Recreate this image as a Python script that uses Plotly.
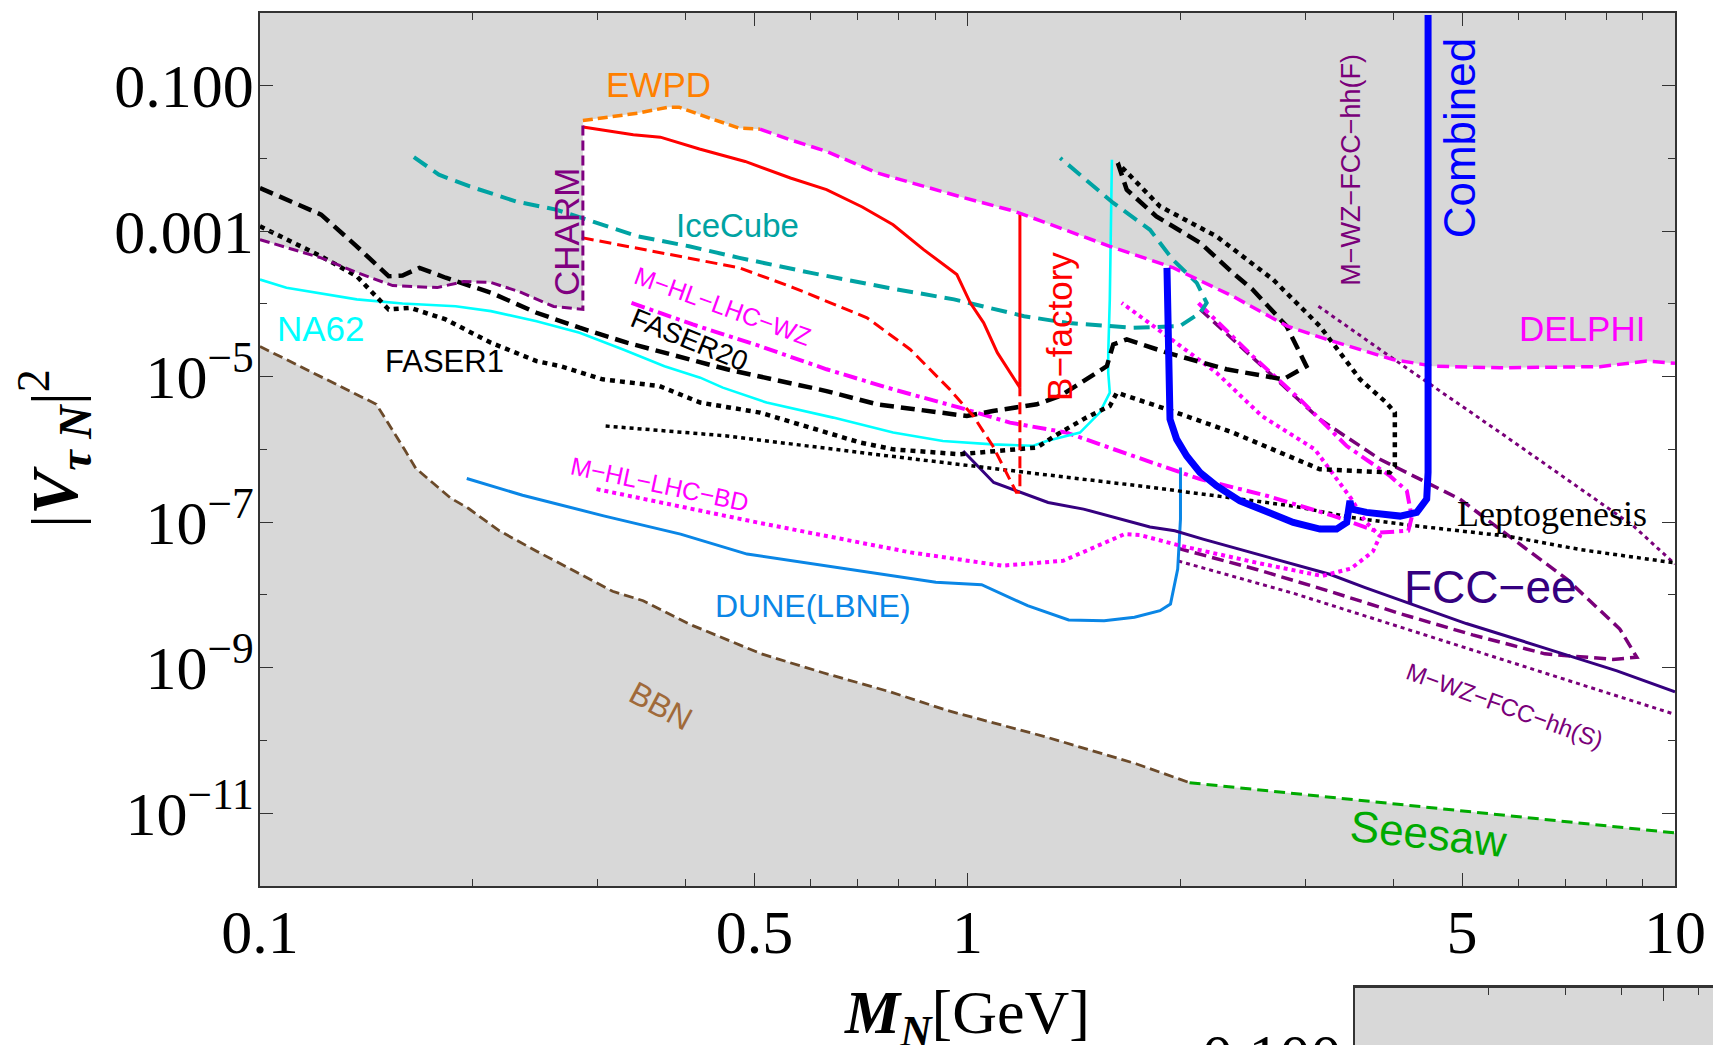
import math
import plotly.graph_objects as go

W, H = 1713, 1045

# ---------------------------------------------------------------
# Heavy neutral lepton: mass M_N [GeV] vs. mixing |V_tauN|^2
# ---------------------------------------------------------------

# BBN lower bound
bbn_m = [0.1, 0.122, 0.146, 0.160, 0.166, 0.186, 0.197, 0.218, 0.246, 0.283,
         0.315, 0.348, 0.404, 0.511, 0.625, 0.776, 0.938, 1.29, 1.73, 2.06]
bbn_v = [2.59e-5, 1.0e-5, 4.17e-6, 1.0e-6, 5.50e-7, 2.14e-7, 1.55e-7, 7.59e-8, 3.98e-8, 1.95e-8,
         1.12e-8, 8.32e-9, 3.98e-9, 1.55e-9, 8.51e-10, 4.68e-10, 2.57e-10, 1.12e-10, 4.79e-11, 2.63e-11]

# seesaw line
seesaw_m = [2.06, 10.0]
seesaw_v = [2.63e-11, 5.37e-12]

# CHARM bound
charm_m = [0.1, 0.122, 0.137, 0.154, 0.178, 0.194, 0.212, 0.232, 0.260, 0.286, 0.286]
charm_v = [7.62e-4, 4.28e-4, 2.69e-4, 1.78e-4, 1.67e-4, 2.02e-4, 1.96e-4, 1.48e-4, 9.18e-5, 8.36e-5, 3.20e-2]

# electroweak precision data
ewpd_m = [0.286, 0.342, 0.378, 0.391, 0.432, 0.476, 0.509]
ewpd_v = [3.30e-2, 4.17e-2, 5.04e-2, 5.04e-2, 3.56e-2, 2.59e-2, 2.51e-2]

# DELPHI bound
delphi_m = [0.509, 0.562, 0.632, 0.746, 0.973, 1.167, 1.589, 1.950, 2.371, 2.831,
            3.221, 3.990, 4.550, 5.662, 7.834, 9.120, 10.0]
delphi_v = [2.51e-2, 1.79e-2, 1.24e-2, 6.27e-3, 2.99e-3, 1.86e-3, 6.17e-4, 3.15e-4, 1.27e-4, 4.93e-5,
            3.24e-5, 1.72e-5, 1.39e-5, 1.32e-5, 1.37e-5, 1.63e-5, 1.52e-5]

# FASER (1) reach
faser1_m = [0.1, 0.122, 0.137, 0.152, 0.163, 0.183, 0.212, 0.246, 0.266, 0.305,
            0.367, 0.419, 0.509, 0.705, 0.785, 0.975, 1.253, 1.352, 1.472, 1.589,
            1.626, 1.914, 2.371, 3.148, 3.954, 4.018, 4.018, 3.908, 3.589, 3.327,
            3.148, 2.704, 2.249, 1.871, 1.631]
faser1_v = [1.16e-3, 4.50e-4, 2.39e-4, 8.36e-5, 8.81e-5, 6.10e-5, 2.92e-5, 1.63e-5, 1.39e-5, 9.16e-6,
            7.41e-6, 4.39e-6, 3.20e-6, 1.24e-6, 1.00e-6, 8.57e-7, 1.06e-6, 1.70e-6, 2.73e-6, 3.94e-6,
            6.01e-6, 3.55e-6, 1.70e-6, 5.33e-7, 4.81e-7, 5.92e-7, 3.20e-6, 4.39e-6, 9.14e-6, 2.36e-5,
            4.93e-5, 2.15e-4, 8.45e-4, 2.18e-3, 8.59e-3]

# FASER 2 (20) reach
faser20_m = [0.1, 0.122, 0.137, 0.152, 0.159, 0.168, 0.183, 0.212, 0.246, 0.283,
             0.330, 0.457, 0.632, 0.745, 0.998, 1.086, 1.253, 1.352, 1.574, 1.607,
             1.679, 1.914, 2.323, 2.793, 3.013, 2.825, 2.529, 2.371, 2.133, 1.849,
             1.679, 1.631]
faser20_v = [3.90e-3, 1.68e-3, 6.17e-4, 2.39e-4, 2.44e-4, 3.12e-4, 2.28e-4, 1.42e-4, 7.53e-5, 4.69e-5,
             2.92e-5, 1.26e-5, 6.32e-6, 4.16e-6, 2.87e-6, 3.37e-6, 4.16e-6, 5.41e-6, 1.39e-5, 2.77e-5,
             3.24e-5, 2.13e-5, 1.26e-5, 9.16e-6, 1.39e-5, 4.93e-5, 1.57e-4, 2.66e-4, 6.87e-4, 1.59e-3,
             3.70e-3, 8.59e-3]

# NA62 reach
na62_m = [0.1, 0.109, 0.137, 0.159, 0.189, 0.212, 0.246, 0.283, 0.326, 0.373,
          0.419, 0.451, 0.520, 0.646, 0.785, 0.923, 1.086, 1.239, 1.294, 1.442,
          1.538, 1.589, 1.581, 1.581, 1.589, 1.600]
na62_v = [2.15e-4, 1.66e-4, 1.15e-4, 1.01e-4, 9.27e-5, 7.93e-5, 5.77e-5, 4.00e-5, 2.36e-5, 1.39e-5,
          9.66e-6, 7.05e-6, 4.39e-6, 2.73e-6, 1.70e-6, 1.30e-6, 1.17e-6, 1.12e-6, 1.30e-6, 1.70e-6,
          3.20e-6, 6.01e-6, 1.13e-5, 2.13e-5, 1.15e-4, 9.53e-3]

# IceCube reach
icecube_m = [0.165, 0.179, 0.198, 0.230, 0.262, 0.285, 0.342, 0.404, 0.476, 0.601,
             0.771, 0.957, 1.202, 1.380, 1.714, 1.995, 2.133, 2.178, 2.109, 1.950,
             1.811, 1.607, 1.352]
icecube_v = [1.04e-2, 5.94e-3, 4.10e-3, 2.55e-3, 1.97e-3, 1.51e-3, 8.45e-4, 6.17e-4, 4.28e-4, 2.66e-4,
             1.66e-4, 1.15e-4, 6.76e-5, 5.48e-5, 4.69e-5, 4.93e-5, 7.53e-5, 1.03e-4, 1.94e-4, 4.06e-4,
             1.04e-3, 2.43e-3, 1.01e-2]

# B-factory: current bound (solid) and projection (dashed)
bfac_m = [0.286, 0.337, 0.368, 0.418, 0.485, 0.562, 0.632, 0.710, 0.785, 0.867,
          0.966, 1.009, 1.054, 1.102, 1.186, 1.186]
bfac_v = [2.68e-2, 2.10e-2, 1.95e-2, 1.34e-2, 9.04e-3, 5.35e-3, 3.70e-3, 2.14e-3, 1.22e-3, 5.56e-4,
          2.52e-4, 1.03e-4, 5.48e-5, 2.13e-5, 7.05e-6, 1.77e-3]
bfac_proj_m = [0.285, 0.348, 0.409, 0.476, 0.568, 0.721, 0.830, 0.944, 1.019, 1.086,
               1.172, 1.186, 1.186]
bfac_proj_v = [8.11e-4, 5.56e-4, 4.06e-4, 3.12e-4, 1.66e-4, 6.43e-5, 2.36e-5, 6.67e-6, 2.87e-6, 1.11e-6,
               2.58e-7, 2.58e-7, 7.05e-6]

# M-HL-LHC-WZ reach
hlwz_m = [0.335, 0.409, 0.509, 0.632, 0.785, 0.975, 1.148, 1.380, 1.714, 2.133,
          2.649, 3.289, 3.828, 4.198, 4.246, 4.178, 3.954, 3.436, 2.951, 2.529, 2.118]
hlwz_v = [1.03e-4, 5.20e-5, 2.62e-5, 1.26e-5, 6.67e-6, 3.74e-6, 2.33e-6, 1.70e-6, 8.11e-7, 3.89e-7,
          2.30e-7, 1.22e-7, 7.18e-8, 7.62e-8, 1.17e-7, 2.69e-7, 4.32e-7, 1.11e-6, 4.86e-6, 1.91e-5, 1.03e-4]

# M-HL-LHC-BD reach
hlbd_m = [0.299, 0.504, 0.830, 1.119, 1.365, 1.667, 1.754, 2.000, 2.570, 3.170,
          3.483, 3.741, 3.828, 3.648, 3.483, 3.097, 2.606, 2.249, 1.914, 1.652]
hlbd_v = [2.84e-7, 9.91e-8, 3.84e-8, 2.52e-8, 2.94e-8, 6.84e-8, 6.64e-8, 4.73e-8, 2.75e-8, 1.82e-8,
          2.30e-8, 3.94e-8, 6.43e-8, 1.03e-7, 2.13e-7, 1.00e-6, 2.87e-6, 1.13e-5, 3.60e-5, 1.03e-4]

# DUNE (LBNE) reach
dune_m = [0.196, 0.235, 0.306, 0.393, 0.488, 0.647, 0.902, 1.047, 1.216, 1.390,
          1.560, 1.722, 1.871, 1.936, 1.982, 2.000, 2.000]
dune_v = [3.97e-7, 2.34e-7, 1.22e-7, 6.84e-8, 3.64e-8, 2.39e-8, 1.49e-8, 1.38e-8, 7.11e-9, 4.53e-9,
          4.43e-9, 4.93e-9, 6.07e-9, 7.50e-9, 2.26e-8, 1.10e-7, 5.62e-7]

# FCC-ee reach
fccee_m = [0.986, 1.089, 1.300, 1.459, 1.811, 1.963, 2.158, 2.570, 3.251, 3.648,
           4.198, 5.070, 6.546, 8.279, 10.0]
fccee_v = [9.51e-7, 3.51e-7, 1.86e-7, 1.51e-7, 8.59e-8, 7.62e-8, 5.79e-8, 3.58e-8, 1.92e-8, 1.26e-8,
           7.82e-9, 4.04e-9, 1.86e-9, 9.04e-10, 4.67e-10]

# leptogenesis
lepto_m = [0.308, 0.457, 0.705, 0.975, 1.352, 1.811, 2.891, 3.483, 4.198, 5.821, 7.362, 10.0]
lepto_v = [2.09e-6, 1.53e-6, 9.04e-7, 6.25e-7, 4.32e-7, 3.02e-7, 1.66e-7, 1.16e-7, 9.12e-8, 6.37e-8,
           4.18e-8, 2.75e-8]

# combined reach
comb_m = [1.914, 1.922, 1.933, 1.975, 2.041, 2.131, 2.250, 2.427, 2.648, 2.887,
          3.149, 3.324, 3.435, 3.472, 3.491, 3.664, 4.087, 4.315, 4.457, 4.477, 4.477]
comb_v = [3.12e-4, 3.94e-6, 2.59e-6, 1.38e-6, 8.11e-7, 4.81e-7, 3.15e-7, 1.96e-7, 1.36e-7, 9.91e-8,
          8.02e-8, 8.02e-8, 9.91e-8, 1.96e-7, 1.51e-7, 1.36e-7, 1.21e-7, 1.36e-7, 2.07e-7, 4.81e-7, 0.933]

# M-WZ-FCC-hh reaches
hhf_m = [3.133, 4.009, 5.662, 7.031, 8.730, 10.0]
hhf_v = [9.27e-5, 1.72e-5, 1.70e-6, 3.89e-7, 8.89e-8, 2.65e-8]
hhloop_m = [2.133, 3.148, 3.828, 4.966, 5.902, 7.031, 8.356, 8.831, 8.166, 6.546,
            5.176, 4.102, 3.251, 2.570, 1.986]
hhloop_v = [8.36e-5, 2.59e-6, 7.31e-7, 2.07e-7, 5.85e-8, 1.65e-8, 3.40e-9, 1.39e-9, 1.30e-9, 1.55e-9,
            2.82e-9, 5.47e-9, 1.12e-8, 2.22e-8, 4.35e-8]
hhs_m = [1.986, 2.891, 4.102, 5.821, 8.260, 10.0]
hhs_v = [2.92e-8, 1.05e-8, 3.58e-9, 1.22e-9, 4.14e-10, 2.28e-10]

# ---------------------------------------------------------------
GREY = "#d8d8d8"
SERIF = "Liberation Serif, Times New Roman, serif"
SANS = "Liberation Sans, Arial, sans-serif"
AXC = "#333333"

fig = go.Figure()

# allowed (white) region between the upper bounds and BBN / seesaw
up_m = charm_m + ewpd_m + delphi_m
up_v = charm_v + ewpd_v + delphi_v
lo_m = bbn_m + seesaw_m
lo_v = bbn_v + seesaw_v
fig.add_trace(go.Scatter(
    x=up_m + lo_m[::-1], y=up_v + lo_v[::-1], mode="lines", fill="toself",
    fillcolor="white", line=dict(width=0), hoverinfo="skip", showlegend=False))


def curve(m, v, color, width, dash="solid"):
    fig.add_trace(go.Scatter(x=m, y=v, mode="lines",
                             line=dict(color=color, width=width, dash=dash),
                             hoverinfo="skip", showlegend=False))


DOT = "4px,4px"
curve(bbn_m, bbn_v, "#6b4a2a", 2.8, "10px,5px")
curve(seesaw_m, seesaw_v, "#00aa00", 3, "11px,6px")
curve(hhs_m, hhs_v, "#7a007a", 3, DOT)
curve(hhloop_m, hhloop_v, "#7a007a", 3.5, "12px,6px")
curve(hhf_m, hhf_v, "#7a007a", 3, DOT)
curve(dune_m, dune_v, "#0a86e6", 3)
curve(fccee_m, fccee_v, "#35007f", 3)
curve(lepto_m, lepto_v, "black", 3.5, DOT)
curve(hlbd_m, hlbd_v, "#ff00ff", 4, DOT)
curve(hlwz_m, hlwz_v, "#ff00ff", 4, "14px,5px,4px,5px")
curve(na62_m, na62_v, "#00ffff", 2.6)
curve(faser1_m, faser1_v, "black", 4.5, "5px,5px")
curve(faser20_m, faser20_v, "black", 4.5, "14px,7px")
curve(icecube_m, icecube_v, "#00a3a3", 4, "16px,8px")
curve(bfac_proj_m, bfac_proj_v, "#ff0000", 3, "12px,6px")
curve(bfac_m, bfac_v, "#ff0000", 3)
curve(charm_m, charm_v, "#800080", 3, "10px,5px")
curve(ewpd_m, ewpd_v, "#ff8000", 3.5, "10px,5px")
curve(delphi_m, delphi_v, "#ff00ff", 3.5, "12px,6px")
curve(comb_m, comb_v, "#0000ff", 7)

# partial panel below (only its top edge is in view)
fig.add_trace(go.Scatter(x=[], y=[], xaxis="x2", yaxis="y2", showlegend=False, hoverinfo="skip"))


def label(text, m, v, color, size, angle=0, family=SANS):
    fig.add_annotation(x=math.log10(m), y=math.log10(v), xref="x", yref="y",
                       text=text, showarrow=False, textangle=angle,
                       font=dict(family=family, size=size, color=color),
                       xanchor="center", yanchor="middle")


label("EWPD", 0.366, 0.1045, "#ff8000", 35)
label("CHARM", 0.271, 9.82e-4, "#800080", 35, -90)
label("IceCube", 0.473, 1.19e-3, "#00a3a3", 33)
label("NA62", 0.122, 4.58e-5, "#00ffff", 35)
label("FASER1", 0.182, 1.59e-5, "black", 31)
label("FASER20", 0.404, 3.24e-5, "black", 28, 22)
label("M−HL−LHC−WZ", 0.451, 9.27e-5, "#ff00ff", 25, 20)
label("M−HL−LHC−BD", 0.367, 3.32e-7, "#ff00ff", 25, 12)
label("DUNE(LBNE)", 0.605, 7.05e-9, "#0a86e6", 32)
label("BBN", 0.369, 2.99e-10, "#a06a3a", 32, 28)
label("Seesaw", 4.48, 5.25e-12, "#00aa00", 44, 6)
label("B−factory", 1.346, 4.93e-5, "#ff0000", 35, -90)
label("Combined", 4.955, 1.89e-2, "#0000ff", 44, -90)
label("M−WZ−FCC−hh(F)", 3.483, 6.95e-3, "#7a007a", 27, -90)
label("DELPHI", 7.396, 4.58e-5, "#ff00ff", 35)
label("Leptogenesis", 6.70, 1.29e-7, "black", 36, 0, SERIF)
label("FCC−ee", 5.48, 1.29e-8, "#35007f", 46)
label("M−WZ−FCC−hh(S)", 5.74, 2.99e-10, "#7a007a", 24, 20)

# axis titles (placed in page coordinates, outside the plot frame)
fig.add_annotation(x=967 / W, y=(H - 1016) / H, xref="paper", yref="paper",
                   text="<b><i>M</i></b><sub><b><i>N</i></b></sub>[GeV]", showarrow=False,
                   xanchor="center", yanchor="middle",
                   font=dict(family=SERIF, size=62, color="black"))
fig.add_annotation(x=54 / W, y=(H - 449) / H, xref="paper", yref="paper",
                   text="|<b><i>V</i></b><sub><b><i>τ N</i></b></sub>|<sup>2</sup>", showarrow=False,
                   textangle=-90, xanchor="center", yanchor="middle",
                   font=dict(family=SERIF, size=66, color="black"))

# tick label of the panel below, cut by the page edge
fig.add_annotation(x=1344 / W, y=(H - 1020) / H, xref="paper", yref="paper",
                   text="0.100", showarrow=False, xanchor="right", yanchor="top",
                   font=dict(family=SERIF, size=62, color="black"))

x_major = [0.1, 0.5, 1, 5, 10]
x_minor = [0.2, 0.3, 0.4, 0.6, 0.7, 0.8, 0.9, 2, 3, 4, 6, 7, 8, 9]
y_major = [1e-1, 1e-3, 1e-5, 1e-7, 1e-9, 1e-11]
y_text = ["0.100", "0.001", "10<sup>−5</sup>", "10<sup>−7</sup>", "10<sup>−9</sup>", "10<sup>−11</sup>"]
y_minor = [1e-2, 1e-4, 1e-6, 1e-8, 1e-10]

fig.update_layout(
    width=W, height=H,
    margin=dict(l=0, r=0, t=0, b=0),
    paper_bgcolor="white", plot_bgcolor=GREY,
    showlegend=False,
    xaxis=dict(
        type="log", range=[-1, 1], domain=[260 / W, 1675 / W], anchor="y",
        showline=True, linecolor=AXC, linewidth=1.8, mirror="ticks",
        ticks="inside", ticklen=13, tickwidth=1.3, tickcolor=AXC,
        tickvals=x_major, ticktext=["0.1", "0.5", "1", "5", "10"],
        minor=dict(ticks="inside", tickvals=x_minor, ticklen=7, tickwidth=1.2, tickcolor=AXC),
        tickfont=dict(family=SERIF, size=62, color="black"),
        ticklabelstandoff=-9,
        showgrid=False, zeroline=False, automargin=False,
    ),
    yaxis=dict(
        type="log", range=[-12, 0], domain=[(H - 886) / H, (H - 12.7) / H], anchor="x",
        showline=True, linecolor=AXC, linewidth=1.8, mirror="ticks",
        ticks="inside", ticklen=13, tickwidth=1.3, tickcolor=AXC,
        tickvals=y_major, ticktext=y_text,
        minor=dict(ticks="inside", tickvals=y_minor, ticklen=7, tickwidth=1.2, tickcolor=AXC),
        tickfont=dict(family=SERIF, size=62, color="black"),
        ticklabelstandoff=-8,
        showgrid=False, zeroline=False, automargin=False,
    ),
    xaxis2=dict(
        type="log", range=[-1, -0.19], domain=[1355 / W, 1.0], anchor="y2", side="top",
        showline=True, linecolor=AXC, linewidth=2.5,
        ticks="inside", ticklen=13, tickwidth=1.3, tickcolor=AXC,
        tickvals=[0.5], showticklabels=False,
        minor=dict(ticks="inside", tickvals=[0.2, 0.3, 0.4, 0.6], ticklen=7, tickwidth=1.2, tickcolor=AXC),
        showgrid=False, zeroline=False, automargin=False,
    ),
    yaxis2=dict(
        type="log", range=[-0.8, 0], domain=[0, (H - 988) / H], anchor="x2",
        showline=True, linecolor=AXC, linewidth=1.8, ticks="", showticklabels=False,
        showgrid=False, zeroline=False, automargin=False,
    ),
)

fig.write_html("out.html")
